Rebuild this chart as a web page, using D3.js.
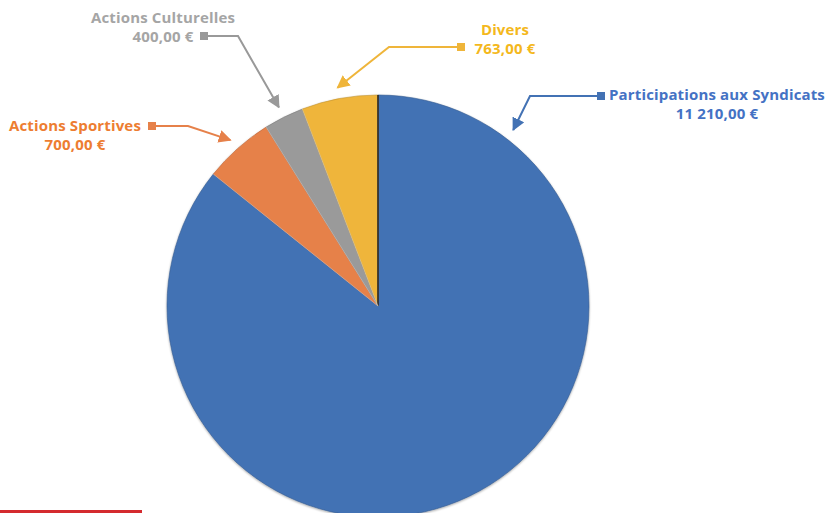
<!DOCTYPE html>
<html>
<head>
<meta charset="utf-8">
<script src="https://cdn.jsdelivr.net/npm/d3@7"></script>
<style>
  body { margin: 0; background: #fff; }
  svg { display: block; }
  text { font-family: 'Open Sans', Lato, sans-serif; font-weight: 700; }
</style>
</head>
<body>
<div id="pie-chart"></div>
<script>
// Data
const categories = ['Participations aux Syndicats', 'Actions Sportives', 'Actions Culturelles', 'Divers'];
const amounts = [11210, 700, 400, 763];
const amountLabels = ['11 210,00 €', '700,00 €', '400,00 €', '763,00 €'];
const colors = ['#4372b4', '#e6814a', '#9a9a9a', '#efb53a'];
const textColors = ['#4472c4', '#ed7d31', '#a5a5a5', '#f4b81c'];

// Dimensions
const WIDTH = 829;
const HEIGHT = 513;
const CX = 378;
const CY = 306;
const RADIUS = 211;

const svg = d3
  .select('#pie-chart')
  .append('svg')
  .attr('width', WIDTH)
  .attr('height', HEIGHT);

const defs = svg.append('defs');
const shadow = defs.append('filter').attr('id', 'shadow').attr('x', '-10%').attr('y', '-10%').attr('width', '120%').attr('height', '120%');
shadow.append('feDropShadow').attr('dx', 0).attr('dy', 1).attr('stdDeviation', 1.2).attr('flood-color', '#000').attr('flood-opacity', 0.35);

const data = categories.map((name, i) => ({ name, value: amounts[i], label: amountLabels[i], i }));

const pie = d3.pie().sort(null).value((d) => d.value);
const arc = d3.arc().innerRadius(0).outerRadius(RADIUS);
const arcs = pie(data);

const pieG = svg.append('g').attr('transform', `translate(${CX}, ${CY})`).attr('filter', 'url(#shadow)');

pieG
  .selectAll('path')
  .data(arcs)
  .enter()
  .append('path')
  .attr('d', arc)
  .attr('fill', (d) => colors[d.data.i])
  .attr('stroke', (d) => d3.color(colors[d.data.i]).darker(0.6))
  .attr('stroke-width', 0.6);

// highlight on slice edges
pieG
  .selectAll('line.edge')
  .data(arcs)
  .enter()
  .append('line')
  .attr('class', 'edge')
  .attr('x1', 0)
  .attr('y1', 0)
  .attr('x2', (d) => RADIUS * Math.sin(d.startAngle))
  .attr('y2', (d) => -RADIUS * Math.cos(d.startAngle))
  .attr('stroke', (d, i) => (i === 0 ? '#2a2a2a' : 'rgba(255,255,255,0.35)'))
  .attr('stroke-width', (d, i) => (i === 0 ? 1.6 : 1));

// Label layout (leader square, elbow, text centre)
const labelLayout = [
  { sq: [601, 96], elbow: [530, 96], tx: 717, ty: 100 },
  { sq: [152, 126], elbow: [188, 126], tx: 75, ty: 131 },
  { sq: [204, 36], elbow: [238, 36], tx: 163, ty: 23 },
  { sq: [461, 47], elbow: [389, 47], tx: 505, ty: 35 }
];

colors.forEach((c, i) => {
  defs.append('marker')
    .attr('id', 'arrow' + i)
    .attr('viewBox', '0 0 10 10')
    .attr('refX', 9)
    .attr('refY', 5)
    .attr('markerWidth', 6.5)
    .attr('markerHeight', 6.5)
    .attr('markerUnits', 'strokeWidth')
    .attr('orient', 'auto')
    .append('path')
    .attr('d', 'M0,0 L10,5 L0,10 z')
    .attr('fill', i === 2 ? '#999999' : c);
});

const labels = svg.selectAll('g.label').data(arcs).enter().append('g').attr('class', 'label');

labels.each(function (d) {
  const i = d.data.i;
  const L = labelLayout[i];
  const g = d3.select(this);
  // arrow tip just outside the slice edge
  const mid = i === 0 ? 0.655 : (d.startAngle + d.endAngle) / 2;
  const tipR = RADIUS + 11;
  const tip = [CX + tipR * Math.sin(mid), CY - tipR * Math.cos(mid)];
  const lineColor = i === 2 ? '#999999' : colors[i];
  g.append('path')
    .attr('d', d3.line()([L.sq, L.elbow, tip]))
    .attr('fill', 'none')
    .attr('stroke', lineColor)
    .attr('stroke-width', 2)
    .attr('marker-end', `url(#arrow${i})`);
  g.append('rect')
    .attr('x', L.sq[0] - 4)
    .attr('y', L.sq[1] - 4)
    .attr('width', 8)
    .attr('height', 8)
    .attr('fill', lineColor);
  const t = g.append('text')
    .attr('text-anchor', 'middle')
    .attr('fill', textColors[i])
    .attr('font-size', 15)
    .attr('letter-spacing', 0.15);
  t.append('tspan').attr('x', L.tx).attr('y', L.ty).text(d.data.name);
  t.append('tspan').attr('x', L.tx).attr('y', L.ty + 18.5).text(d.data.label);
});

// red rule bottom-left
svg.append('rect').attr('x', 0).attr('y', 510).attr('width', 142).attr('height', 3).attr('fill', '#d42a2f');
</script>
</body>
</html>
